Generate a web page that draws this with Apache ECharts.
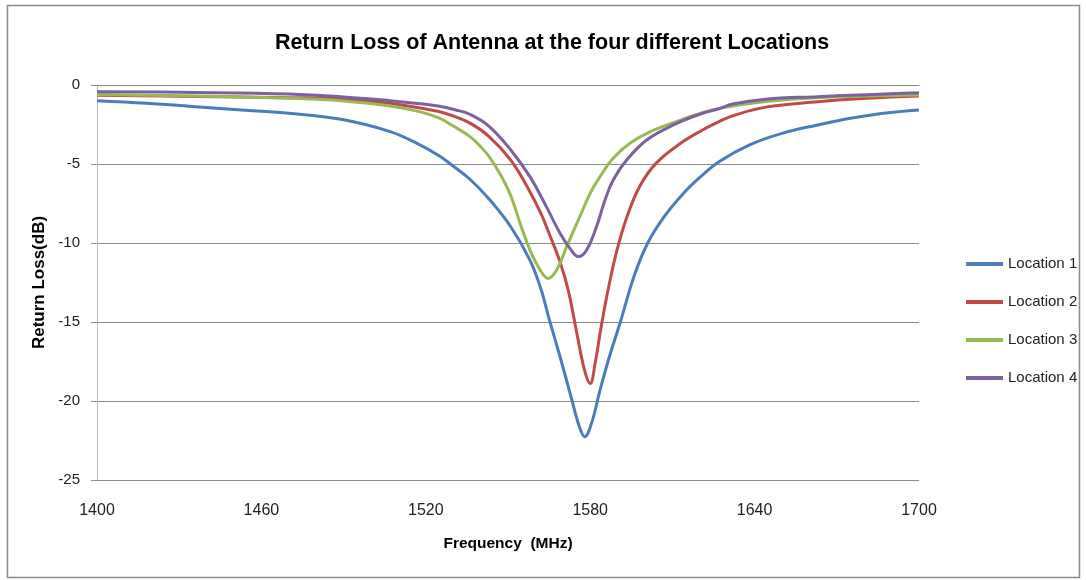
<!DOCTYPE html>
<html>
<head>
<meta charset="utf-8">
<title>Return Loss of Antenna</title>
<script src="https://cdn.jsdelivr.net/npm/echarts@6/dist/echarts.min.js"></script>
<style>
  html, body { margin: 0; padding: 0; background: #ffffff; }
  #chart { width: 1086px; height: 580px; }
</style>
</head>
<body>
<div id="chart"></div>
<script>
// Measured return loss (dB) versus frequency (MHz) at four antenna locations
const seriesNames = ['Location 1', 'Location 2', 'Location 3', 'Location 4'];
const xTicks = [1400, 1460, 1520, 1580, 1640, 1700];
const yTicks = [0, -5, -10, -15, -20, -25];

const loc1Freq = [1400, 1418, 1436, 1454, 1470, 1489, 1507, 1518, 1525, 1529, 1536, 1543, 1551, 1558, 1562, 1565, 1569, 1573, 1576, 1578, 1580.5, 1583.6, 1587, 1591, 1596, 1601, 1607, 1614, 1620, 1627, 1638, 1650, 1663, 1675, 1687, 1700];
const loc1Db = [-0.99, -1.15, -1.37, -1.6, -1.79, -2.17, -2.95, -3.8, -4.5, -5.0, -5.95, -7.2, -8.97, -11.08, -12.9, -14.8, -17.2, -19.73, -21.6, -22.26, -21.4, -19.3, -17.2, -15.0, -12.1, -10.0, -8.33, -6.86, -5.85, -4.85, -3.8, -3.06, -2.53, -2.11, -1.79, -1.58];

const loc2Freq = [1400, 1436, 1470, 1489, 1507, 1525, 1529, 1536, 1543, 1551, 1557, 1562, 1565, 1569, 1572, 1575, 1578, 1580, 1581.8, 1584, 1586.6, 1589.7, 1593.3, 1598, 1604, 1613, 1621, 1627, 1632, 1644, 1663, 1681, 1700];
const loc2Db = [-0.65, -0.72, -0.8, -0.88, -1.16, -1.69, -1.9, -2.4, -3.25, -4.75, -6.44, -8.12, -9.4, -11.2, -13.0, -15.6, -18.1, -18.9, -17.6, -15.3, -12.9, -10.5, -8.4, -6.44, -4.96, -3.69, -2.85, -2.32, -1.95, -1.4, -1.06, -0.84, -0.7];

const loc3Freq = [1400, 1436, 1470, 1489, 1507, 1518, 1525, 1530, 1536, 1540, 1543, 1547, 1551, 1554.4, 1558, 1561.7, 1564.7, 1567.8, 1571.4, 1576.3, 1580, 1583.6, 1588.4, 1594.5, 1602, 1613, 1620, 1627, 1644, 1663, 1681, 1700];
const loc3Db = [-0.6, -0.7, -0.84, -0.99, -1.33, -1.7, -2.1, -2.6, -3.25, -3.9, -4.5, -5.6, -7.0, -8.75, -10.44, -11.7, -12.24, -11.7, -10.23, -8.3, -6.85, -5.8, -4.64, -3.69, -2.95, -2.22, -1.8, -1.48, -1.05, -0.8, -0.7, -0.63];

const loc4Freq = [1400, 1436, 1470, 1489, 1507, 1516, 1525, 1531, 1536, 1543, 1551, 1558, 1564, 1569, 1572.6, 1575.7, 1578.7, 1582.3, 1585.4, 1588.4, 1593.3, 1600.6, 1610.3, 1620, 1627, 1632, 1644, 1663, 1681, 1700];
const loc4Db = [-0.42, -0.47, -0.57, -0.74, -0.99, -1.15, -1.35, -1.58, -1.85, -2.6, -4.11, -5.8, -7.7, -9.39, -10.34, -10.86, -10.44, -8.97, -7.28, -6.01, -4.75, -3.48, -2.53, -1.85, -1.5, -1.2, -0.9, -0.74, -0.61, -0.49];

const colors = ['#4a7ebb', '#be4b48', '#98b954', '#7d60a0'];

function pairs(xs, ys) {
  return xs.map((x, i) => [x, ys[i]]);
}

const seriesData = [
  pairs(loc1Freq, loc1Db),
  pairs(loc2Freq, loc2Db),
  pairs(loc3Freq, loc3Db),
  pairs(loc4Freq, loc4Db)
];

const fontFamily = '"Liberation Sans", Arial, sans-serif';

const chart = echarts.init(document.getElementById('chart'), null, { renderer: 'canvas' });

chart.setOption({
  animation: false,
  backgroundColor: '#ffffff',
  title: {
    text: 'Return Loss of Antenna at the four different Locations',
    left: 547,
    top: 27,
    textAlign: 'center',
    textStyle: { fontFamily: fontFamily, fontWeight: 'bold', fontSize: 21.5, color: '#000000' }
  },
  graphic: [{
    type: 'rect',
    shape: { x: 7.5, y: 5.5, width: 1072, height: 572 },
    style: { fill: 'none', stroke: '#8c8c8c', lineWidth: 1.5 },
    silent: true,
    z: -1
  }],
  legend: {
    orient: 'vertical',
    left: 961,
    top: 250,
    itemWidth: 37,
    itemHeight: 4,
    itemGap: 20,
    icon: 'rect',
    data: seriesNames,
    textStyle: { fontFamily: fontFamily, fontSize: 15, color: '#222222', lineHeight: 18 }
  },
  grid: { left: 97, right: 167, top: 85, bottom: 100, containLabel: false },
  xAxis: {
    type: 'value',
    min: xTicks[0],
    max: xTicks[xTicks.length - 1],
    interval: 60,
    name: 'Frequency  (MHz)',
    nameLocation: 'middle',
    nameGap: 56,
    nameTextStyle: { fontFamily: fontFamily, fontWeight: 'bold', fontSize: 15.5, color: '#000000' },
    axisLine: { show: true, lineStyle: { color: '#8c8c8c', width: 1 } },
    axisTick: { show: false },
    splitLine: { show: false },
    axisLabel: {
      margin: 23,
      fontFamily: fontFamily,
      fontSize: 16,
      color: '#222222',
      formatter: (v) => String(v)
    }
  },
  yAxis: {
    type: 'value',
    min: yTicks[yTicks.length - 1],
    max: yTicks[0],
    interval: 5,
    name: 'Return Loss(dB)',
    nameLocation: 'middle',
    nameGap: 43,
    nameTextStyle: { fontFamily: fontFamily, fontWeight: 'bold', fontSize: 17, color: '#000000' },
    axisLine: { show: true, lineStyle: { color: '#bdbdbd', width: 1 } },
    axisTick: { show: true, length: 6, lineStyle: { color: '#8c8c8c' } },
    splitLine: { show: true, lineStyle: { color: '#8c8c8c', width: 1 } },
    axisLabel: { margin: 17, fontFamily: fontFamily, fontSize: 15, color: '#222222' }
  },
  series: seriesNames.map((name, i) => ({
    name: name,
    type: 'line',
    data: seriesData[i],
    smooth: 0.4,
    showSymbol: false,
    symbol: 'none',
    lineStyle: { color: colors[i], width: 3 },
    itemStyle: { color: colors[i] },
    z: 2 + i
  }))
});
</script>
</body>
</html>
